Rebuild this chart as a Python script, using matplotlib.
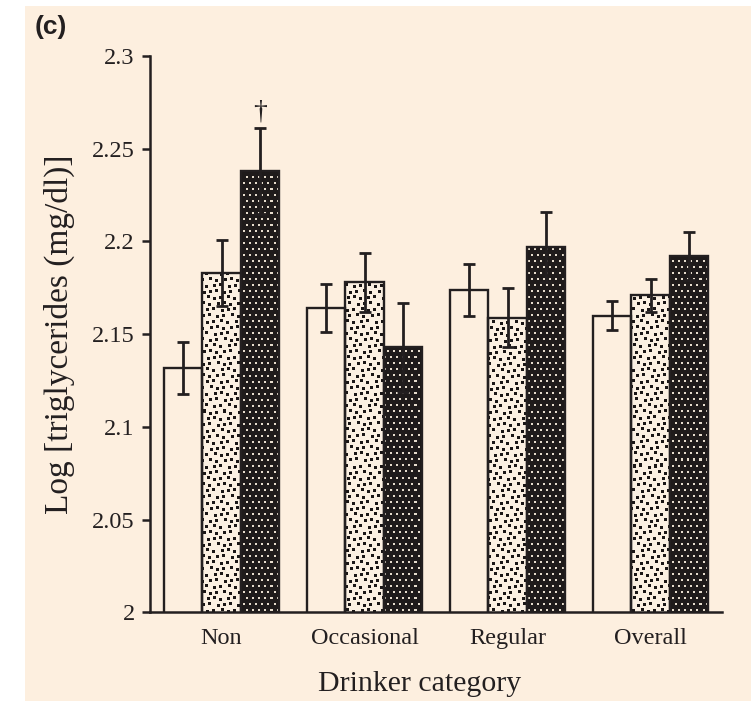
import numpy as np
import matplotlib
matplotlib.use('Agg')
import matplotlib.pyplot as plt
from matplotlib.patches import Rectangle

# Mean log triglycerides by drinker category, three groups per category
categories = ['Non', 'Occasional', 'Regular', 'Overall']
means_open = [2.132, 2.164, 2.174, 2.160]
err_open = [0.014, 0.013, 0.014, 0.008]
means_light = [2.183, 2.178, 2.159, 2.171]
err_light = [0.018, 0.016, 0.016, 0.009]
means_dark = [2.238, 2.143, 2.197, 2.192]
err_dark = [0.023, 0.024, 0.019, 0.013]
yticks = [2, 2.05, 2.1, 2.15, 2.2, 2.25, 2.3]
ytick_labels = ['2', '2.05', '2.1', '2.15', '2.2', '2.25', '2.3']
dagger_index = 0  # significance mark above the dark "Non" bar

BG = '#fdefdf'
INK = '#231f20'
SERIF = 'Liberation Serif'


def dot_texture(h, w, pitch_x, pitch_y, size, fg, bg, jitter=False):
    """Staggered dot screen used to fill the patterned bars."""
    img = np.empty((h, w, 3))
    img[:] = matplotlib.colors.to_rgb(bg)
    fg = matplotlib.colors.to_rgb(fg)
    for r, y0 in enumerate(range(1, h, pitch_y)):
        shift = (pitch_x // 2) * (r % 2)
        for c, x0 in enumerate(range(shift, w, pitch_x)):
            dx = dy = 0
            if jitter:
                dx = (r * 7 + c * 13) % 5 // 2 - 1
                dy = (r * 11 + c * 5) % 3 - 1
            ya, xa = max(0, y0 + dy), max(0, x0 + dx)
            img[ya:ya + size, xa:xa + size] = fg
    return img


fig = plt.figure(figsize=(7.51, 7.01), dpi=100)
fig.patch.set_facecolor('white')
fig.patches.append(Rectangle((25 / 751, 0), 1, 1 - 6 / 701, transform=fig.transFigure,
                             facecolor=BG, edgecolor='none', zorder=-10))

ax = fig.add_axes([150 / 751, 1 - 612.4 / 701, 572 / 751, 556.4 / 701])
ax.set_facecolor('none')

x = np.arange(len(categories))
width = 0.27
xlim = (-0.5, len(categories) - 0.5)
ylim = (2.0, 2.3)

# pixel-sized screens so each texel lands on one output pixel
px_w = 572
px_h = 556
light_tex = dot_texture(px_h, px_w, 7, 6, 3, '#1a1616', '#fbf0e2', jitter=True)
dark_tex = dot_texture(px_h, px_w, 6, 6, 2, '#e6dccd', '#1f1b1b')

bar_kw = dict(width=width, fill=False, edgecolor=INK, linewidth=1.7, zorder=3)
ax.bar(x - width, means_open, **bar_kw)
light_bars = ax.bar(x, means_light, **bar_kw)
dark_bars = ax.bar(x + width, means_dark, **bar_kw)

for bars, tex in ((light_bars, light_tex), (dark_bars, dark_tex)):
    for rect in bars:
        im = ax.imshow(tex, extent=(xlim[0], xlim[1], ylim[0], ylim[1]), origin='upper',
                       interpolation='nearest', aspect='auto', zorder=2)
        im.set_clip_path(rect)

err_kw = dict(fmt='none', ecolor=INK, elinewidth=2.0, capsize=4.5, capthick=2.0, zorder=4)
ax.errorbar(x - width, means_open, yerr=err_open, **err_kw)
ax.errorbar(x, means_light, yerr=err_light, **err_kw)
ax.errorbar(x + width, means_dark, yerr=err_dark, **err_kw)

ax.text(x[dagger_index] + width, means_dark[dagger_index] + err_dark[dagger_index] + 0.002,
        '\u2020', ha='center', va='bottom', fontsize=20, family=SERIF, color=INK)

ax.set_xlim(*xlim)
ax.set_ylim(*ylim)
ax.set_yticks(yticks)
ax.set_yticklabels(ytick_labels)
ax.set_xticks(x)
ax.set_xticklabels(categories)
for lab in ax.get_xticklabels() + ax.get_yticklabels():
    lab.set_family(SERIF)
    lab.set_fontsize(17.5)
    lab.set_color(INK)

ax.spines['top'].set_visible(False)
ax.spines['right'].set_visible(False)
for s in ('left', 'bottom'):
    ax.spines[s].set_linewidth(1.8)
    ax.spines[s].set_color(INK)
ax.tick_params(axis='y', direction='out', length=6, width=1.8, pad=5, colors=INK)
ax.tick_params(axis='x', length=0, pad=11, colors=INK)

ax.set_ylabel('Log [triglycerides (mg/dl)]', family=SERIF, fontsize=24, color=INK, labelpad=12)
fig.text(420 / 751, 1 - 684 / 701, 'Drinker category', ha='center', va='center',
         family=SERIF, fontsize=21.5, color=INK)
fig.text(35 / 751, 1 - 27 / 701, '(c)', ha='left', va='center', family='Liberation Sans',
         fontweight='bold', fontsize=19, color=INK)

fig.savefig('out.png', dpi=100, facecolor=fig.get_facecolor())
